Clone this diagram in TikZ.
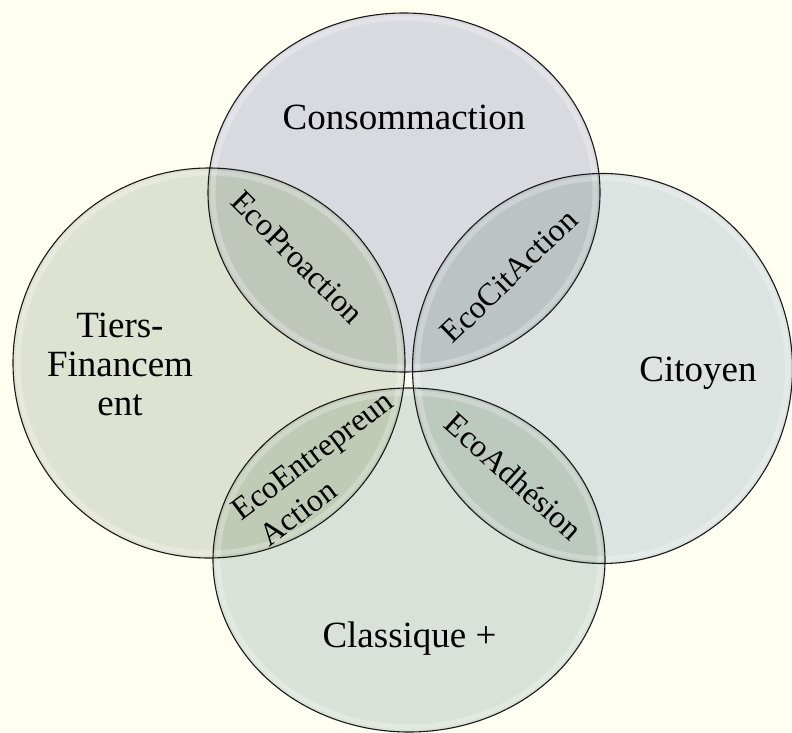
\documentclass[tikz,border=0pt]{standalone}
\usepackage{fontspec}
\setmainfont{Liberation Serif}
\definecolor{bgc}{HTML}{FFFFF2}
\definecolor{cT}{HTML}{D9DAE0}
\definecolor{cL}{HTML}{DEE2D1}
\definecolor{cR}{HTML}{DCE3E1}
\definecolor{cB}{HTML}{D9E2D8}
\definecolor{lTL}{HTML}{BFC7BB}
\definecolor{lTR}{HTML}{BBC3C5}
\definecolor{lRB}{HTML}{BCC9BE}
\definecolor{lLB}{HTML}{C0CBB5}
\begin{document}
\begin{tikzpicture}[x=1pt,y=-1pt,
  outline/.style={draw=black!90, line width=1.1pt},
  rim/.style={draw=white, line width=5pt, opacity=0.25},
  biglabel/.style={font=\fontsize{37}{39}\selectfont, inner sep=0pt},
  lenslabel/.style={font=\fontsize{32}{36}\selectfont, inner sep=0pt, align=center}]
\fill[bgc] (0,0) rectangle (792,733);
\useasboundingbox (0,0) rectangle (792,733);
% centres
\coordinate (oT) at (404,192.5);
\coordinate (oL) at (209,363);
\coordinate (oR) at (602.5,368.5);
\coordinate (oB) at (409,560);
% fills
\fill[cT] (oT) ellipse [x radius=196pt, y radius=179.5pt];
\fill[cL] (oL) ellipse [x radius=196pt, y radius=195pt];
\fill[cR] (oR) ellipse [x radius=190pt, y radius=195pt];
\fill[cB] (oB) ellipse [x radius=196pt, y radius=172pt];
% lenses
\begin{scope}
  \clip (oT) ellipse [x radius=196pt, y radius=179.5pt];
  \fill[lTL] (oL) ellipse [x radius=196pt, y radius=195pt];
  \fill[lTR] (oR) ellipse [x radius=190pt, y radius=195pt];
\end{scope}
\begin{scope}
  \clip (oB) ellipse [x radius=196pt, y radius=172pt];
  \fill[lLB] (oL) ellipse [x radius=196pt, y radius=195pt];
  \fill[lRB] (oR) ellipse [x radius=190pt, y radius=195pt];
\end{scope}
% glassy rims
\draw[rim] (oT) ellipse [x radius=191pt, y radius=174.5pt];
\draw[rim] (oL) ellipse [x radius=191pt, y radius=190pt];
\draw[rim] (oR) ellipse [x radius=185pt, y radius=190pt];
\draw[rim] (oB) ellipse [x radius=191pt, y radius=167pt];
% outlines
\draw[outline] (oT) ellipse [x radius=196pt, y radius=179.5pt];
\draw[outline] (oL) ellipse [x radius=196pt, y radius=195pt];
\draw[outline] (oR) ellipse [x radius=190pt, y radius=195pt];
\draw[outline] (oB) ellipse [x radius=196pt, y radius=172pt];
% labels
\node[biglabel, anchor=base] (consom) at (404,130) {Consommaction};
\node[biglabel, anchor=base] (citoyen) at (698,381) {Citoyen};
\node[biglabel, anchor=base] (classique) at (409.5,647) {Classique +};
\node[biglabel, align=center] (tiers) at (120,364) {Tiers-\\Financem\\ent};
\node[lenslabel, rotate=-45] (proaction) at (297.5,257.5) {EcoProaction};
\node[lenslabel, rotate=44] (citaction) at (509,276) {EcoCitAction};
\node[lenslabel, rotate=-42] (adhesion) at (514,476.5) {EcoAdhésion};
\node[lenslabel, rotate=37] (entrep) at (314,458) {EcoEntrepreun};
\node[lenslabel, rotate=37] (entrepb) at (298,513) {Action};
\end{tikzpicture}
\end{document}
